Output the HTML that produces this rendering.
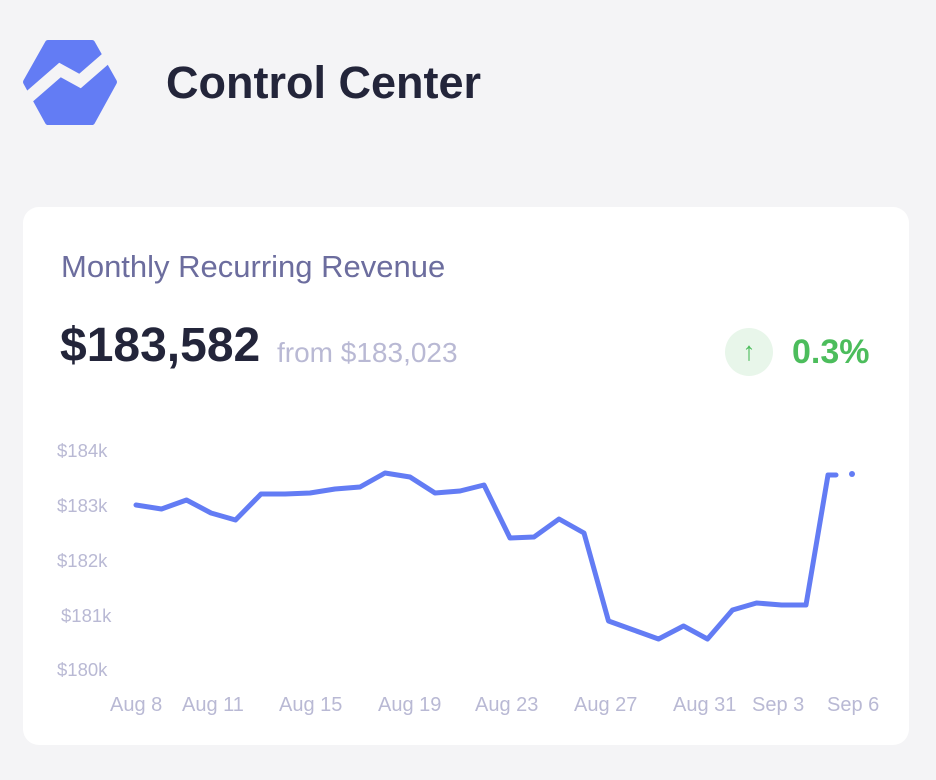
<!DOCTYPE html>
<html><head><meta charset="utf-8"><style>
body{margin:0;width:936px;height:780px;background:#f4f4f6;font-family:"Liberation Sans",sans-serif;position:relative;overflow:hidden}
.t{position:absolute;white-space:nowrap}
.card{position:absolute;left:23px;top:207px;width:886px;height:538px;background:#fff;border-radius:16px}
</style></head><body>
<svg class="t" style="left:0;top:0" width="140" height="140">
<path d="M48 43 H92 L114 82 L92 122 H48 L26 82 Z" fill="#637cf4" stroke="#637cf4" stroke-width="6" stroke-linejoin="round"/>
<polyline points="14,110 60,70 80,81 118,48" fill="none" stroke="#f4f4f6" stroke-width="12"/>
</svg>
<div class="t" style="left:166px;top:57px;font-size:45px;font-weight:bold;color:#23253a">Control Center</div>
<div class="card"></div>
<div class="t" style="left:61px;top:249px;font-size:31px;color:#6c6d9e">Monthly Recurring Revenue</div>
<div class="t" style="left:60px;top:318px;font-size:48px;font-weight:bold;color:#23253a">$183,582</div>
<div class="t" style="left:277px;top:337px;font-size:28px;color:#b9b9d4">from $183,023</div>
<div class="t" style="left:725px;top:328px;width:48px;height:48px;border-radius:50%;background:#e8f6ea;color:#4cbd5c;font-size:26px;font-weight:bold;text-align:center;line-height:46px">↑</div>
<div class="t" style="left:792px;top:333px;font-size:34px;font-weight:bold;color:#4cbd5c">0.3%</div>
<div style="position:absolute;left:0;top:0;font-size:18.5px;color:#b9b9d4">
<div class="t" style="left:57px;top:440px">$184k</div>
<div class="t" style="left:57px;top:495px">$183k</div>
<div class="t" style="left:57px;top:550px">$182k</div>
<div class="t" style="left:61px;top:605px">$181k</div>
<div class="t" style="left:57px;top:659px">$180k</div>
</div>
<div style="position:absolute;left:0;top:0;font-size:20px;color:#b9b9d4">
<div class="t" style="left:110px;top:694px">Aug 8</div>
<div class="t" style="left:182px;top:694px">Aug 11</div>
<div class="t" style="left:279px;top:694px">Aug 15</div>
<div class="t" style="left:378px;top:694px">Aug 19</div>
<div class="t" style="left:475px;top:694px">Aug 23</div>
<div class="t" style="left:574px;top:694px">Aug 27</div>
<div class="t" style="left:673px;top:694px">Aug 31</div>
<div class="t" style="left:752px;top:694px">Sep 3</div>
<div class="t" style="left:827px;top:694px">Sep 6</div>
</div>
<svg class="t" style="left:0;top:0" width="936" height="780">
<polyline fill="none" stroke="#637cf4" stroke-width="5" stroke-linejoin="round" stroke-linecap="round" points="136,505 161.5,509 186.5,500 211,513 235.5,520 261,494 285,494 310,493 335,489 360,487 385,473 410,477 435,493 460,491 484,485 510,538 534,537 559,519 584,533 608.5,621 633.5,630 658.5,639 683.5,626 707.5,639 732.5,610 756.5,603 781.5,605 806,605 828,475 836,475"/>
<circle cx="852" cy="474" r="3" fill="#637cf4"/>
</svg>
</body></html>
